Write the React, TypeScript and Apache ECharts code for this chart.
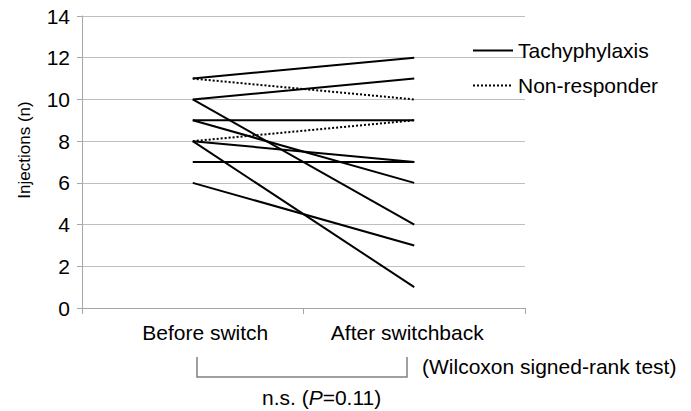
import React, { useEffect, useRef } from "react";
import * as echarts from "echarts";

const categories = ["Before switch", "After switchback"];
const yTicks = [0, 2, 4, 6, 8, 10, 12, 14];
const tachyBefore = [11, 10, 10, 9, 9, 8, 8, 7, 6];
const tachyAfter = [12, 11, 4, 9, 6, 7, 1, 7, 3];
const nonRespBefore = [11, 8];
const nonRespAfter = [10, 9];
const legendNames = ["Tachyphylaxis", "Non-responder"];
const testLabel = "(Wilcoxon signed-rank test)";

const FONT = "'Liberation Sans', Arial, Helvetica, sans-serif";
const FS = 21;

export default function App() {
  const ref = useRef<HTMLDivElement>(null);
  useEffect(() => {
    if (!ref.current) return;
    const chart = echarts.init(ref.current, null, { renderer: "svg" });
    const series: any[] = [];
    tachyBefore.forEach((b, i) => {
      series.push({
        type: "line",
        name: legendNames[0],
        data: [b, tachyAfter[i]],
        symbol: "none",
        lineStyle: { color: "#000", width: 2, type: "solid" },
        itemStyle: { color: "#000" },
      });
    });
    nonRespBefore.forEach((b, i) => {
      series.push({
        type: "line",
        name: legendNames[1],
        data: [b, nonRespAfter[i]],
        symbol: "none",
        lineStyle: { color: "#000", width: 2, type: "dotted" },
        itemStyle: { color: "#000" },
      });
    });
    chart.setOption({
      animation: false,
      textStyle: { fontFamily: FONT },
      grid: { left: 82, right: 166, top: 16, bottom: 103, containLabel: false },
      legend: {
        data: legendNames,
        orient: "vertical",
        left: 467,
        top: 35,
        itemWidth: 40,
        itemHeight: 14,
        itemGap: 14,
        selectedMode: false,
        itemStyle: { opacity: 0 },
        textStyle: { fontSize: FS, color: "#000", fontFamily: FONT },
      },
      xAxis: {
        type: "category",
        data: [
          { value: categories[0], textStyle: { padding: [0, 0, 0, 25] } },
          { value: categories[1], textStyle: { padding: [0, 14, 0, 0] } },
        ],
        boundaryGap: true,
        axisLine: { lineStyle: { color: "#a6a6a6", width: 1 } },
        axisTick: { show: true, length: 6, lineStyle: { color: "#a6a6a6" } },
        axisLabel: { fontSize: FS, color: "#000", margin: 14, fontFamily: FONT },
        splitLine: { show: false },
      },
      yAxis: {
        type: "value",
        min: yTicks[0],
        max: yTicks[yTicks.length - 1],
        interval: 2,
        name: "Injections (n)",
        nameLocation: "middle",
        nameGap: 49,
        nameTextStyle: { fontSize: 17, color: "#000", fontFamily: FONT, padding: [0, 0, 0, 24] },
        axisLine: { show: true, lineStyle: { color: "#a6a6a6", width: 1 } },
        axisTick: { show: true, length: 5, lineStyle: { color: "#a6a6a6" } },
        axisLabel: { fontSize: FS, color: "#000", margin: 12, fontFamily: FONT },
        splitLine: { show: true, lineStyle: { color: "#bfbfbf", width: 1 } },
      },
      series,
      graphic: [
        {
          type: "polyline",
          shape: { points: [[197, 357], [197, 377], [407, 377], [407, 357]] },
          style: { stroke: "#808080", lineWidth: 1.5, fill: null },
        },
        {
          type: "text",
          left: 422,
          top: 356,
          style: { text: testLabel, fontSize: FS, fill: "#000", fontFamily: FONT },
        },
        {
          type: "text",
          left: 262,
          top: 387,
          style: {
            text: "{a|n.s. (}{i|P}{a|=0.11)}",
            rich: {
              a: { fontSize: FS, fill: "#000", fontFamily: FONT },
              i: { fontSize: FS, fill: "#000", fontFamily: FONT, fontStyle: "italic" },
            },
          },
        },
      ],
    });
    return () => chart.dispose();
  }, []);
  return <div ref={ref} style={{ width: 691, height: 411, position: "absolute", left: 0, top: 0 }} />;
}
